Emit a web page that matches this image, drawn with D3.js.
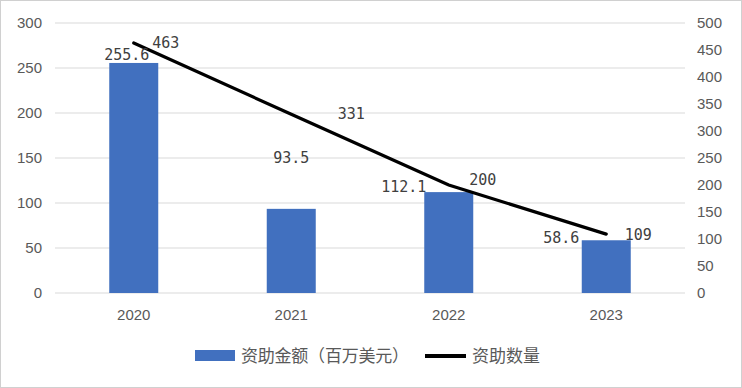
<!DOCTYPE html>
<html>
<head>
<meta charset="utf-8">
<script src="https://cdn.jsdelivr.net/npm/d3@7"></script>
<style>
  body { margin: 0; background: #fff; }
  svg { display: block; font-family: "Liberation Sans", Arial, sans-serif; }
  .axis text { fill: #595959; font-size: 15px; }
  .lbl { fill: #404040; font-size: 15px; font-family: "DejaVu Sans Mono", monospace; }
  .legend text { fill: #595959; font-size: 17px; font-family: "Noto Sans CJK SC", sans-serif; }
</style>
</head>
<body>
<svg id="chart"></svg>
<script>
var years = ["2020", "2021", "2022", "2023"],
    amounts = [255.6, 93.5, 112.1, 58.6],
    counts = [463, 331, 200, 109],
    leftTicks = [0, 50, 100, 150, 200, 250, 300],
    rightTicks = [0, 50, 100, 150, 200, 250, 300, 350, 400, 450, 500],
    legendNames = ["资助金额（百万美元）", "资助数量"];

var W = 742, H = 388,
    margin = {top: 23, right: 57, bottom: 95, left: 55},
    width = W - margin.left - margin.right,
    height = H - margin.top - margin.bottom;

var svg = d3.select("#chart").attr("width", W).attr("height", H);

svg.append("rect")
    .attr("x", 0.5).attr("y", 0.5)
    .attr("width", W - 1).attr("height", H - 1)
    .attr("fill", "#fff").attr("stroke", "#d0d0d0");

var g = svg.append("g")
    .attr("transform", "translate(" + margin.left + "," + margin.top + ")");

var x = d3.scaleBand().domain(years).range([0, width]),
    yL = d3.scaleLinear().domain([0, 300]).range([height, 0]),
    yR = d3.scaleLinear().domain([0, 500]).range([height, 0]);

// gridlines
g.selectAll(".grid")
    .data(leftTicks)
  .enter().append("line")
    .attr("x1", 0).attr("x2", width)
    .attr("y1", function(d) { return yL(d); })
    .attr("y2", function(d) { return yL(d); })
    .attr("stroke", "#d9d9d9").attr("stroke-width", 1);

// left axis
var axL = g.append("g").attr("class", "axis")
    .call(d3.axisLeft(yL).tickValues(leftTicks).tickSize(0).tickPadding(13));
axL.select(".domain").remove();

// right axis
var axR = g.append("g").attr("class", "axis")
    .attr("transform", "translate(" + width + ",0)")
    .call(d3.axisRight(yR).tickValues(rightTicks).tickSize(0).tickPadding(12));
axR.select(".domain").remove();

// bottom axis
var axB = g.append("g").attr("class", "axis")
    .attr("transform", "translate(0," + height + ")")
    .call(d3.axisBottom(x).tickSize(0).tickPadding(16));
axB.select(".domain").remove();

var bw = 49;

g.selectAll(".bar")
    .data(amounts)
  .enter().append("rect")
    .attr("class", "bar")
    .attr("x", function(d, i) { return x(years[i]) + x.bandwidth() / 2 - bw / 2; })
    .attr("y", function(d) { return yL(d); })
    .attr("width", bw)
    .attr("height", function(d) { return height - yL(d); })
    .attr("fill", "#4170BF");

var line = d3.line()
    .x(function(d, i) { return x(years[i]) + x.bandwidth() / 2; })
    .y(function(d) { return yR(d); });

g.append("path")
    .datum(counts)
    .attr("d", line)
    .attr("fill", "none")
    .attr("stroke", "#000")
    .attr("stroke-width", 3.2)
    .attr("stroke-linecap", "round");

// bar labels (positions as in the original, offsets from the bar)
var barLblDx = [-7, 0, -45, -45],
    barLblDy = [-3, -46, 0, 3];
g.selectAll(".blbl")
    .data(amounts)
  .enter().append("text")
    .attr("class", "lbl")
    .attr("text-anchor", "middle")
    .attr("x", function(d, i) { return x(years[i]) + x.bandwidth() / 2 + barLblDx[i]; })
    .attr("y", function(d, i) { return yL(d) + barLblDy[i]; })
    .text(function(d) { return d.toFixed(1); });

var cntLblDx = [32, 60, 34, 32],
    cntLblDy = [5, 5, 0, 6];
g.selectAll(".clbl")
    .data(counts)
  .enter().append("text")
    .attr("class", "lbl")
    .attr("text-anchor", "middle")
    .attr("x", function(d, i) { return x(years[i]) + x.bandwidth() / 2 + cntLblDx[i]; })
    .attr("y", function(d, i) { return yR(d) + cntLblDy[i]; })
    .text(function(d) { return d; });

// legend
var lg = svg.append("g").attr("class", "legend");
lg.append("rect")
    .attr("x", 195).attr("y", 350).attr("width", 40).attr("height", 11)
    .attr("fill", "#4170BF");
lg.append("text").attr("x", 241).attr("y", 362)
    .attr("textLength", 168).attr("lengthAdjust", "spacing")
    .text(legendNames[0]);
lg.append("line")
    .attr("x1", 425).attr("x2", 466).attr("y1", 356).attr("y2", 356)
    .attr("stroke", "#000").attr("stroke-width", 4);
lg.append("text").attr("x", 472).attr("y", 362).text(legendNames[1]);
</script>
</body>
</html>
